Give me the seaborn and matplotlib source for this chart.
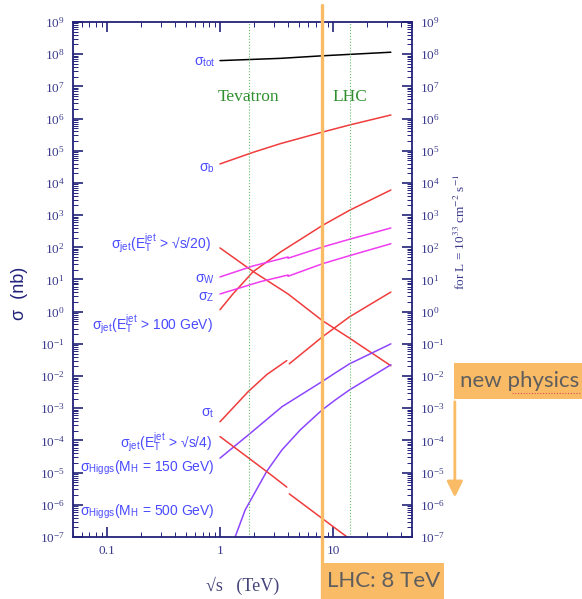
import matplotlib
matplotlib.use('Agg')
import numpy as np
import matplotlib.pyplot as plt
import seaborn as sns
from matplotlib.ticker import LogLocator, NullFormatter, LogFormatterMathtext
from matplotlib.patches import Rectangle, FancyArrowPatch
from matplotlib.lines import Line2D

# sqrt(s) in TeV, cross sections in nb
tot_x = [1, 3.42, 8.07, 32.5]
tot_y = [6.31e7, 7.41e7, 8.91e7, 1.15e8]

b_x = [1, 1.96, 3.42, 8.07, 14, 32.5]
b_y = [3.89e4, 8.91e4, 1.66e5, 3.80e5, 6.31e5, 1.29e6]

jet20_x = [1, 1.96, 4, 8.07, 14, 32.5]
jet20_y = [95.5, 17.8, 3.55, 0.525, 0.151, 0.0209]

jet100_x = [1, 1.3, 1.96, 3.42, 8.07, 14, 32.5]
jet100_y = [1.15, 3.55, 17.4, 70.8, 479, 1413, 6026]

w_x = [1, 1.96, 4, 4, 8.07, 14, 32.5]
w_y = [12.0, 26.3, 50.1, 45.7, 102, 178, 398]

z_x = [1, 2.26, 4, 4, 8.07, 14, 32.5]
z_y = [3.55, 8.51, 13.8, 12.6, 30.9, 55.0, 129]

top_ppbar_x = [1, 1.78, 2.6, 3.9]
top_ppbar_y = [3.80e-4, 3.31e-3, 1.12e-2, 3.02e-2]
top_pp_x = [4.1, 8.07, 14, 32.5]
top_pp_y = [2.40e-2, 0.166, 0.692, 4.07]

h150_x = [1, 1.78, 3.54, 8.02, 10.5, 14, 32.5]
h150_y = [2.82e-5, 1.48e-4, 1.12e-3, 6.76e-3, 1.26e-2, 2.40e-2, 0.1]

h500_x = [1.36, 1.67, 2.6, 3.54, 5.14, 8.02, 10.5, 14, 32.5]
h500_y = [1e-7, 6.92e-7, 1.12e-5, 5.13e-5, 2.14e-4, 8.91e-4, 1.82e-3, 3.72e-3, 2.24e-2]

jet4_ppbar_x = [1, 2.6, 3.9]
jet4_ppbar_y = [1.32e-4, 1.07e-5, 3.55e-6]
jet4_pp_x = [4.1, 8.0, 13.7]
jet4_pp_y = [2.19e-6, 3.80e-7, 9.3e-8]

RED = '#f03c3c'
PINK = '#f03cf0'
PURPLE = '#8c46ff'
NAVY = '#22227a'
BLUE = '#4a4aff'
ORANGE = '#fabb66'
GREY = '#5e5e5e'

curves = [
    (tot_x, tot_y, 'black'),
    (b_x, b_y, RED),
    (jet20_x, jet20_y, RED),
    (jet100_x, jet100_y, RED),
    (w_x, w_y, PINK),
    (z_x, z_y, PINK),
    (top_ppbar_x, top_ppbar_y, RED),
    (top_pp_x, top_pp_y, RED),
    (h150_x, h150_y, PURPLE),
    (h500_x, h500_y, PURPLE),
    (jet4_ppbar_x, jet4_ppbar_y, RED),
    (jet4_pp_x, jet4_pp_y, RED),
]

sns.set_style('white')
plt.rcParams['font.family'] = ['Liberation Serif', 'DejaVu Serif']
plt.rcParams['mathtext.fontset'] = 'stix'

fig = plt.figure(figsize=(5.82, 5.99), dpi=100)
ax = fig.add_axes([0.1254, 0.1035, 0.5825, 0.8598])

for xs, ys, c in curves:
    sns.lineplot(x=xs, y=ys, color=c, lw=1.1, sort=False, estimator=None, ax=ax)

ax.set_xscale('log')
ax.set_yscale('log')
ax.set_xlim(0.05, 50)
ax.set_ylim(1e-7, 1e9)

ax.yaxis.set_major_locator(LogLocator(base=10, numticks=30))
ax.yaxis.set_minor_locator(LogLocator(base=10, subs=np.arange(2, 10), numticks=30))
ax.yaxis.set_minor_formatter(NullFormatter())
ax.yaxis.set_major_formatter(LogFormatterMathtext())
ax.xaxis.set_minor_locator(LogLocator(base=10, subs=np.arange(2, 10), numticks=30))
ax.xaxis.set_minor_formatter(NullFormatter())
ax.set_xticks([0.1, 1, 10], labels=['0.1', '1', '10'])

for s in ax.spines.values():
    s.set_color(NAVY)
    s.set_linewidth(1.3)
ax.tick_params(which='both', direction='in', top=True, right=True, left=True, bottom=True,
               labelright=True, color=NAVY, labelcolor='#3a3a8c', labelsize=9.5)
ax.tick_params(which='major', length=7, pad=6, width=1.2)
ax.tick_params(which='minor', length=3.5, width=0.7)

# collider energies
ax.axvline(1.8, color='#66bb66', ls=':', lw=0.8)
ax.axvline(14, color='#66bb66', ls=':', lw=0.8)
ax.text(1.8, 4.7e6, 'Tevatron', color='#2f8f2f', fontsize=12.5, ha='center', va='center')
ax.text(14, 4.7e6, 'LHC', color='#2f8f2f', fontsize=12.5, ha='center', va='center')

# curve labels
sans = dict(color=BLUE, fontsize=10, ha='right', va='center', family=['Liberation Sans', 'DejaVu Sans'])
def sub(t):
    return r'$_{\mathdefault{%s}}$' % t
et = r'E$_{\mathdefault{T}}^{\mathdefault{jet}}$'
labels = [
    (0.91, 5.7e7, 'σ' + sub('tot')),
    (0.90, 3.0e4, 'σ' + sub('b')),
    (0.84, 1.3e2, 'σ' + sub('jet') + '(' + et + ' > √s/20)'),
    (0.90, 1.0e1, 'σ' + sub('W')),
    (0.90, 2.9e0, 'σ' + sub('Z')),
    (0.86, 3.9e-1, 'σ' + sub('jet') + '(' + et + ' > 100 GeV)'),
    (0.90, 7.2e-4, 'σ' + sub('t')),
    (0.85, 9.0e-5, 'σ' + sub('jet') + '(' + et + ' > √s/4)'),
    (0.89, 1.4e-5, 'σ' + sub('Higgs') + '(M' + sub('H') + ' = 150 GeV)'),
    (0.89, 6.0e-7, 'σ' + sub('Higgs') + '(M' + sub('H') + ' = 500 GeV)'),
]
for lx, ly, lt in labels:
    ax.text(lx, ly, lt, **sans)

ax.set_xlabel('√s   (TeV)', fontsize=13, color='#45457a', labelpad=14)
fig.text(0.034, 0.51, 'σ  (nb)', rotation=90, fontsize=13, color=NAVY, ha='center', va='center',
         family=['Liberation Sans', 'DejaVu Sans'])
fig.text(0.792, 0.613, r'for L = 10$^{33}$ cm$^{-2}$ s$^{-1}$', rotation=90, fontsize=9.5,
         color='#3a3a8c', ha='center', va='center')

# 8 TeV marker
ax.axvline(8, ymin=-0.125, ymax=1.033, color=ORANGE, lw=2.4, clip_on=False, zorder=5)
fig.patches.append(Rectangle((0.5533, 0.0), 0.2096, 0.0601, transform=fig.transFigure,
                             facecolor=ORANGE, edgecolor='none', zorder=4))
fig.text(0.659, 0.030, 'LHC: 8 TeV', fontsize=16, color=GREY, ha='center', va='center',
         family=['Lato', 'DejaVu Sans'], zorder=10)

# new physics marker
fig.patches.append(Rectangle((0.780, 0.3339), 0.22, 0.0601, transform=fig.transFigure,
                             facecolor=ORANGE, edgecolor='none', zorder=4))
fig.text(0.790, 0.364, 'new physics', fontsize=16, color=GREY, ha='left', va='center',
         family=['Lato', 'DejaVu Sans'], zorder=10)
fig.lines.append(Line2D([0.880, 0.998], [0.344, 0.344], transform=fig.transFigure,
                        color='#e05050', lw=0.8, ls=(0, (1, 1.5)), zorder=11))
fig.patches.append(FancyArrowPatch((0.7815, 0.3339), (0.7815, 0.165), transform=fig.transFigure,
                                   arrowstyle='-|>,head_length=6,head_width=3', color=ORANGE,
                                   lw=2, mutation_scale=1.6))

fig.savefig('out.png', dpi=100)
